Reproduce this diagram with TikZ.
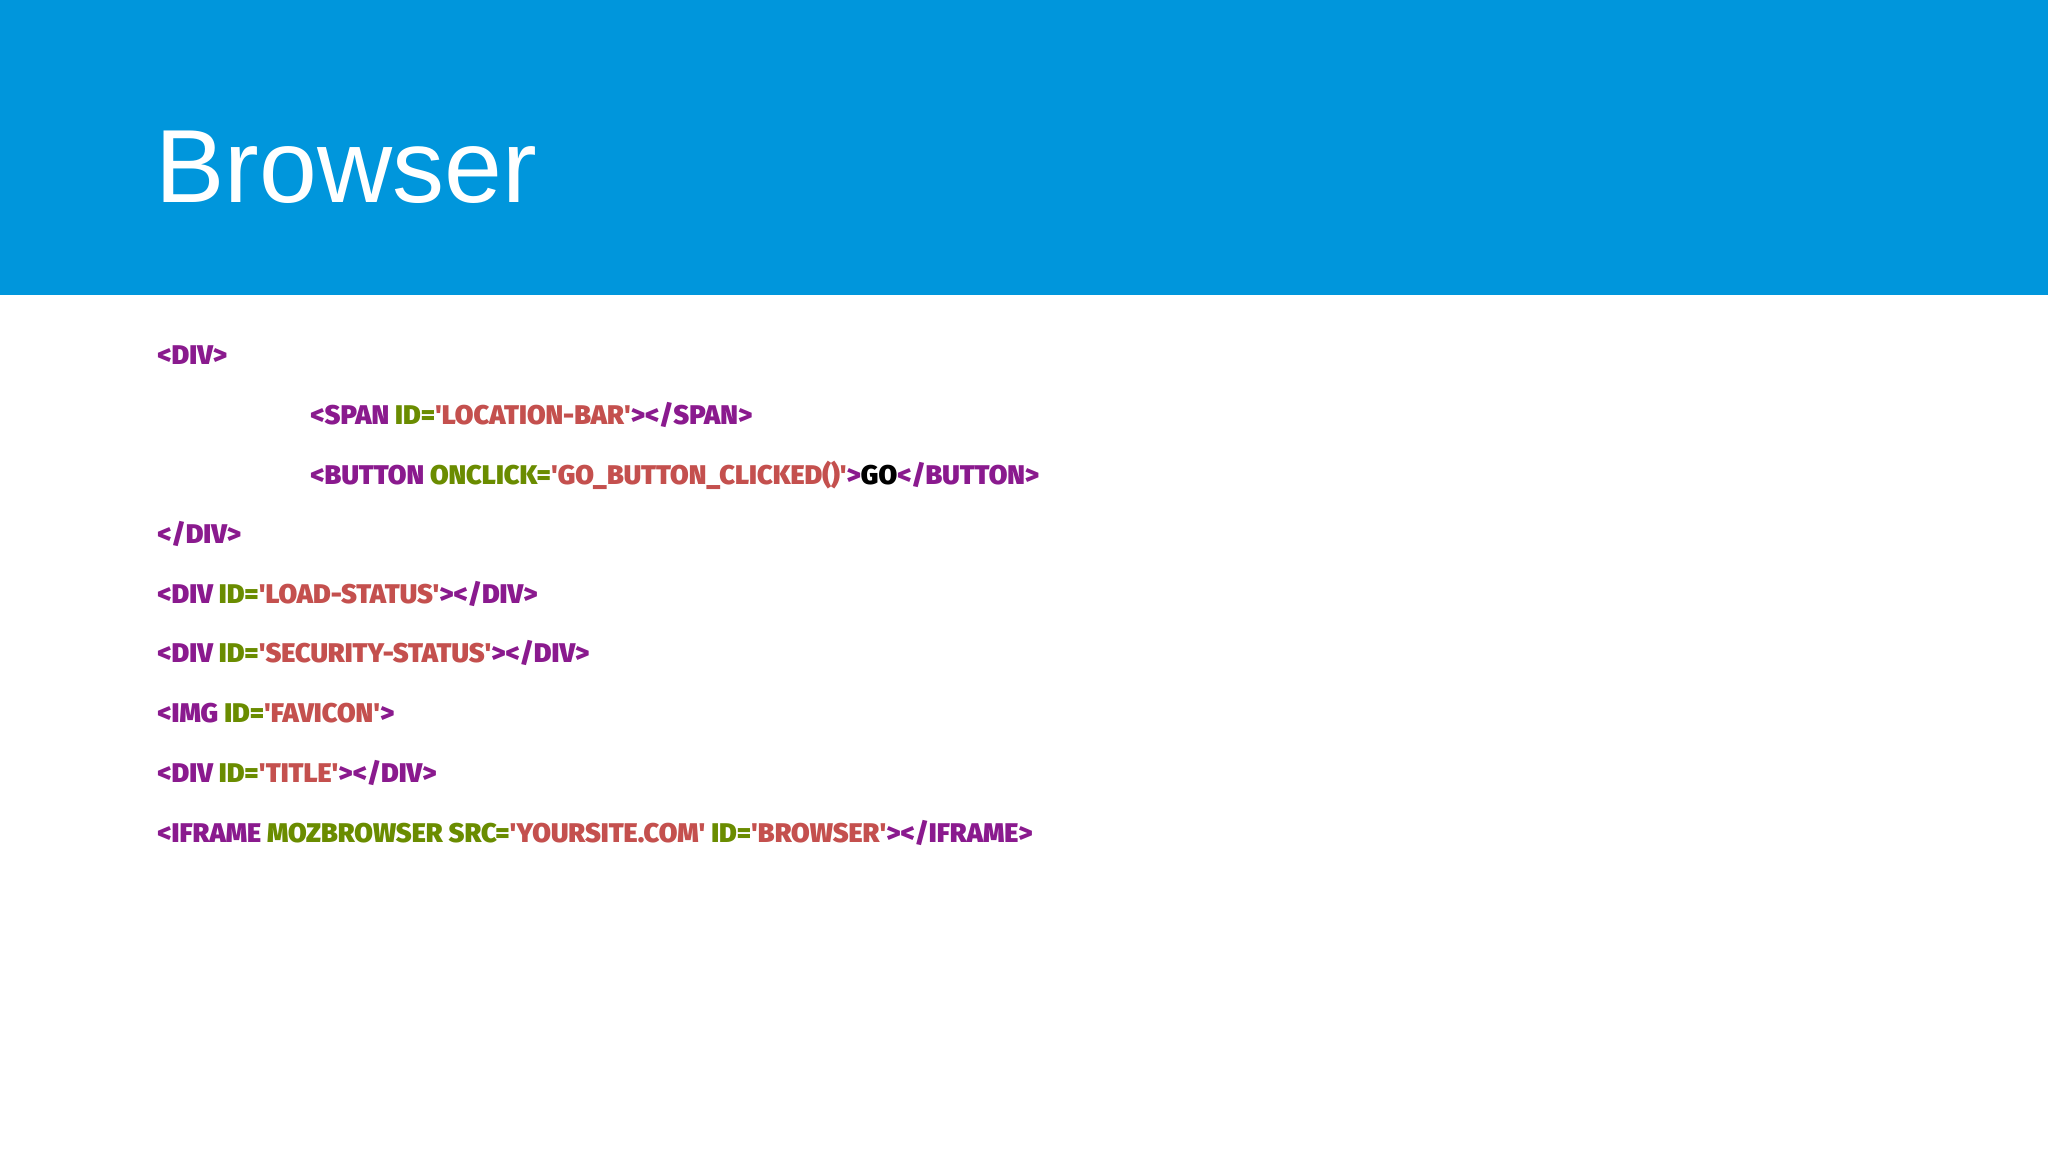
\documentclass[tikz,border=0pt]{standalone}
\usepackage{fontspec}
\setmainfont{Liberation Sans}
\newfontfamily\codefont{Fira Sans}[UprightFont=* Black]
\definecolor{hdr}{HTML}{0096DC}
\definecolor{tagc}{HTML}{8A1A8E}
\definecolor{attc}{HTML}{6A8C00}
\definecolor{valc}{HTML}{C4504E}
\newcommand{\T}[1]{\textcolor{tagc}{#1}}
\newcommand{\A}[1]{\textcolor{attc}{#1}}
\newcommand{\V}[1]{\textcolor{valc}{#1}}
\begin{document}
\begin{tikzpicture}[x=0.5pt,y=-0.5pt,
  code/.style={anchor=west,inner sep=0pt,font=\codefont\fontsize{13.5}{16}\selectfont}]
\useasboundingbox (0,0) rectangle (2048,1152);
\fill[white] (0,0) rectangle (2048,1152);
\fill[hdr] (0,0) rectangle (2048,295);
\node[anchor=base west,inner sep=0pt,text=white,font=\fontsize{52}{60}\selectfont] (title) at (155,202) {Browser};
\node[code] (l1) at (157,355) {\T{<DIV>}};
\node[code] (l2) at (310,415) {\T{<SPAN} \A{ID=}\V{'LOCATION-BAR'}\T{></SPAN>}};
\node[code] (l3) at (310,475) {\T{<BUTTON} \A{ONCLICK=}\V{'GO\_BUTTON\_CLICKED()'}\T{>}GO\T{</BUTTON>}};
\node[code] (l4) at (157,534) {\T{</DIV>}};
\node[code] (l5) at (157,594) {\T{<DIV} \A{ID=}\V{'LOAD-STATUS'}\T{></DIV>}};
\node[code] (l6) at (157,653) {\T{<DIV} \A{ID=}\V{'SECURITY-STATUS'}\T{></DIV>}};
\node[code] (l7) at (157,713) {\T{<IMG} \A{ID=}\V{'FAVICON'}\T{>}};
\node[code] (l8) at (157,773) {\T{<DIV} \A{ID=}\V{'TITLE'}\T{></DIV>}};
\node[code] (l9) at (157,833) {\T{<IFRAME} \A{MOZBROWSER SRC=}\V{'YOURSITE.COM'} \A{ID=}\V{'BROWSER'}\T{></IFRAME>}};
\end{tikzpicture}
\end{document}
